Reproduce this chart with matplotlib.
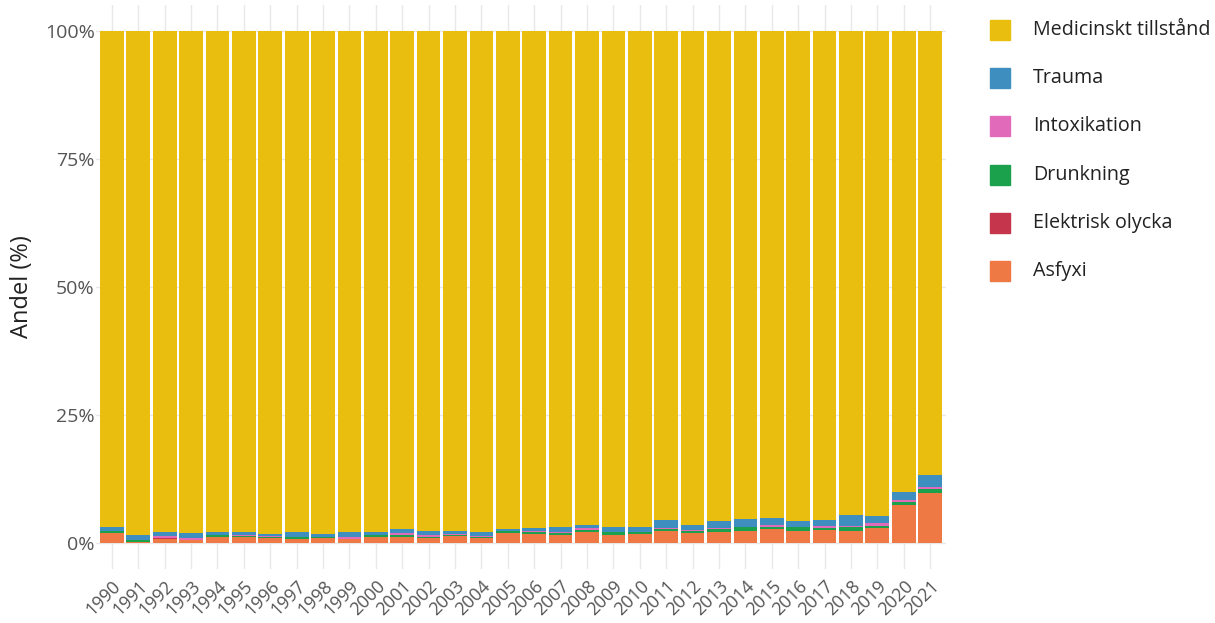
import matplotlib.pyplot as plt
from matplotlib.patches import Rectangle
import numpy as np

plt.rcParams['font.family'] = ['Open Sans', 'DejaVu Sans']

years = [str(y) for y in range(1990, 2022)]

# andel (%) per orsak, nerifrån och upp
asfyxi = [2.0, 0.3, 0.9, 0.6, 1.2, 1.2, 1.0, 0.8, 1.0, 0.8, 1.2, 1.2, 1.0, 1.35, 1.0, 2.0,
          1.75, 1.55, 2.15, 1.55, 1.75, 2.35, 1.95, 2.15, 2.35, 2.75, 2.35, 2.55, 2.35, 2.9, 7.4, 9.75]
elektrisk = [0.0, 0.0, 0.05, 0.0, 0.0, 0.05, 0.05, 0.0, 0.0, 0.0, 0.0, 0.05, 0.0, 0.05, 0.05, 0.0,
             0.0, 0.0, 0.05, 0.0, 0.0, 0.05, 0.0, 0.05, 0.0, 0.05, 0.0, 0.05, 0.05, 0.05, 0.05, 0.15]
drunkning = [0.45, 0.3, 0.15, 0.0, 0.4, 0.2, 0.1, 0.4, 0.2, 0.0, 0.4, 0.4, 0.3, 0.2, 0.2, 0.4,
             0.4, 0.4, 0.4, 0.6, 0.4, 0.4, 0.4, 0.6, 0.8, 0.4, 0.8, 0.4, 0.8, 0.45, 0.6, 0.8]
intoxikation = [0.0, 0.0, 0.3, 0.4, 0.0, 0.15, 0.2, 0.0, 0.0, 0.45, 0.0, 0.3, 0.25, 0.2, 0.2, 0.0,
                0.2, 0.2, 0.4, 0.0, 0.0, 0.2, 0.2, 0.2, 0.0, 0.4, 0.0, 0.4, 0.2, 0.5, 0.4, 0.2]
trauma = [0.7, 1.0, 0.8, 1.0, 0.6, 0.6, 0.4, 1.0, 0.6, 0.9, 0.6, 0.85, 0.8, 0.6, 0.8, 0.4,
          0.6, 1.0, 0.6, 1.0, 1.0, 1.55, 1.0, 1.35, 1.55, 1.35, 1.15, 1.15, 2.15, 1.35, 1.55, 2.35]
medicinskt = [100 - a - b - c - d - e for a, b, c, d, e in
              zip(asfyxi, elektrisk, drunkning, intoxikation, trauma)]

series = [
    ('Asfyxi', asfyxi, '#EE7944'),
    ('Elektrisk olycka', elektrisk, '#C5354B'),
    ('Drunkning', drunkning, '#1BA14B'),
    ('Intoxikation', intoxikation, '#E16BBA'),
    ('Trauma', trauma, '#3E8FC0'),
    ('Medicinskt tillstånd', medicinskt, '#E9BE0F'),
]

W, H = 1215, 623
fig = plt.figure(figsize=(W / 100, H / 100), dpi=100)
ax = fig.add_axes([96 / W, 1 - 569 / H, (946 - 96) / W, (569 - 5) / H])

x = np.arange(len(years))
bottom = np.zeros(len(years))
for name, vals, col in series:
    ax.bar(x, vals, bottom=bottom, width=0.9, color=col, linewidth=0, zorder=2)
    bottom += np.array(vals)

ax.set_xlim(-0.6, len(years) - 0.4)
ax.set_ylim(-5, 105)
ax.set_yticks([0, 25, 50, 75, 100])
ax.set_yticklabels(['0%', '25%', '50%', '75%', '100%'])
ax.set_xticks(x)
ax.set_xticklabels(years, rotation=45, ha='right', va='top', rotation_mode='anchor')
ax.tick_params(axis='both', length=0, labelsize=14, colors='#555555')
ax.tick_params(axis='x', pad=6, labelsize=13)
ax.tick_params(axis='y', pad=1)
ax.grid(True, color='#e8e8e8', linewidth=1, zorder=0)
ax.set_axisbelow(True)
for s in ax.spines.values():
    s.set_visible(False)
ax.set_ylabel('Andel (%)', fontsize=17, color='#222222', labelpad=8)

# legend
for i, (name, vals, col) in enumerate(series[::-1]):
    yc = 30 + i * 48.2
    fig.patches.append(Rectangle((990 / W, 1 - (yc + 10) / H), 20 / W, 20 / H,
                                 transform=fig.transFigure, color=col, figure=fig))
    fig.text(1033 / W, 1 - yc / H, name, fontsize=14.2, color='#222222', va='center')

fig.savefig('out.png', dpi=100)
